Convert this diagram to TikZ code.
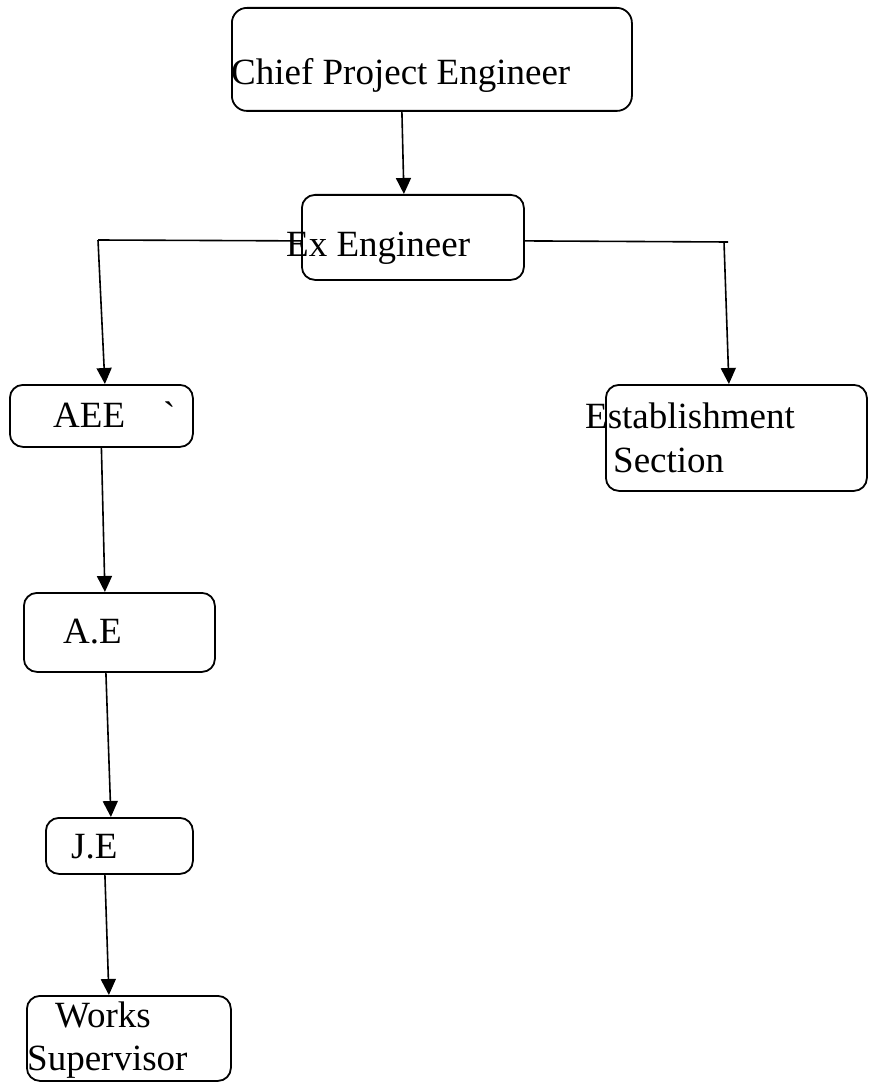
\documentclass[tikz,border=0pt]{standalone}
\usepackage{fontspec}
\setmainfont{Liberation Serif}
\usepackage{tikz}
\usetikzlibrary{arrows.meta}

\tikzset{
	post/.style={draw, rounded corners=13pt, line width=1.8pt, inner sep=0pt, anchor=north west},
	label/.style={inner sep=0pt, anchor=base west, font=\fontsize{37}{43}\selectfont},
	link/.style={line width=1.6pt},
	arrow/.style={link, -{Triangle[length=16pt, width=15pt]}}
}

\begin{document}
\begin{tikzpicture}[x=1pt, y=-1pt]
			\useasboundingbox (0,0) rectangle (868,1083);
			% boxes
			\node (chief) at (231, 7) [post, minimum width=400pt, minimum height=103pt, rounded corners=15pt] {};
			\node (ex) at (301, 194) [post, minimum width=222pt, minimum height=85pt] {};
			\node (aee) at (9, 384) [post, minimum width=183pt, minimum height=62pt] {};
			\node (est) at (605, 384) [post, minimum width=261pt, minimum height=106pt] {};
			\node (ae) at (23, 592) [post, minimum width=191pt, minimum height=79pt] {};
			\node (je) at (45, 817) [post, minimum width=147pt, minimum height=56pt] {};
			\node (works) at (26, 995) [post, minimum width=204pt, minimum height=85pt] {};
			% texts
			\node (chieftext) at (231, 85) [label] {Chief Project Engineer};
			\node (extext) at (286, 256) [label] {Ex Engineer};
			\node (aeetext) at (53, 427) [label] {AEE\hspace{38pt}\textasciigrave};
			\node (esttext) at (585, 428) [label] {Establishment};
			\node (secttext) at (613, 472) [label] {Section};
			\node (aetext) at (63, 643) [label] {A.E};
			\node (jetext) at (71, 858) [label] {J.E};
			\node (workstext) at (55, 1027) [label] {Works};
			\node (supertext) at (27, 1070) [label] {Supervisor};
			% branch points
			\coordinate (ltop) at (98, 240);
			\coordinate (rtop) at (724, 242);
			% connectors
			\draw [arrow] ([xshift=-30pt]chief.south) -- ([xshift=-9pt]ex.north);
			\draw [link] ([yshift=-3.5pt]ex.west) -- (ltop);
			\draw [link] ([yshift=-3.5pt]ex.east) -- ([xshift=4pt]rtop);
			\draw [arrow] (ltop) -- ([xshift=3.5pt]aee.north);
			\draw [arrow] (rtop) -- ([xshift=-7.5pt]est.north);
			\draw [arrow] (aee.south) -- ([xshift=-14.5pt]ae.north);
			\draw [arrow] ([xshift=-13.5pt]ae.south) -- ([xshift=-8.5pt]je.north);
			\draw [arrow] ([xshift=-14.5pt]je.south) -- ([xshift=-20pt]works.north);
\end{tikzpicture}
\end{document}
